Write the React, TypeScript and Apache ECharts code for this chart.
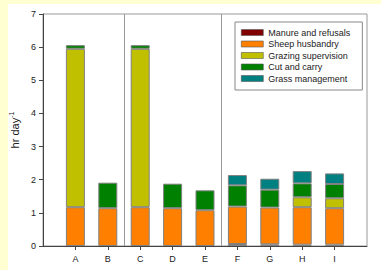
import React, { useEffect, useRef } from "react";
import * as echarts from "echarts";

const categories = ["A", "B", "C", "D", "E", "F", "G", "H", "I"];
const seriesNames = [
  "Manure and refusals",
  "Sheep husbandry",
  "Grazing supervision",
  "Cut and carry",
  "Grass management",
];
const manure = [0, 0, 0, 0, 0, 0.06, 0.05, 0.04, 0.04];
const sheep = [1.17, 1.14, 1.17, 1.14, 1.08, 1.13, 1.11, 1.13, 1.1];
const grazing = [4.78, 0, 4.78, 0, 0, 0, 0, 0.3, 0.3];
const cutCarry = [0.11, 0.77, 0.11, 0.74, 0.6, 0.64, 0.54, 0.42, 0.43];
const grass = [0, 0, 0, 0, 0, 0.31, 0.33, 0.37, 0.32];
const colors = ["#800000", "#FF8000", "#C0C000", "#008000", "#008080"];
const separators = [2.5, 5.5];

export default function App() {
  const ref = useRef<HTMLDivElement>(null);
  useEffect(() => {
    document.body.style.margin = "0";
    if (!ref.current) return;
    const chart = echarts.init(ref.current, null, { renderer: "svg" });
    const values = [manure, sheep, grazing, cutCarry, grass];
    // padded axis: an empty slot at each end so the categories sit at 1..9 of 0..10
    const axisCats = ["", ...categories, ""];
    const series: any[] = values.map((vals, s) => ({
      name: seriesNames[s],
      type: "bar",
      stack: "total",
      barWidth: 19,
      itemStyle: { color: colors[s], borderColor: "#808080", borderWidth: 1 },
      data: ["-", ...vals.map((v) => (v === 0 ? "-" : v)), "-"],
    }));
    chart.setOption({
      animation: false,
      textStyle: { fontFamily: "Liberation Sans" },
      grid: {
        left: 43,
        top: 14,
        right: 14,
        bottom: 24,
        show: true,
        borderColor: "#999",
        borderWidth: 1,
        backgroundColor: "transparent",
      },
      legend: {
        orient: "vertical",
        left: 235,
        top: 22,
        padding: [6, 12, 7, 6],
        icon: "rect",
        itemWidth: 22,
        itemHeight: 6,
        itemGap: 2.5,
        itemStyle: { borderColor: "#555", borderWidth: 0.6 },
        borderColor: "#888",
        borderWidth: 1,
        backgroundColor: "#fff",
        textStyle: { fontSize: 9, color: "#222", fontFamily: "Liberation Sans" },
        data: seriesNames,
      },
      xAxis: {
        type: "category",
        data: axisCats,
        boundaryGap: false,
        splitLine: { show: false },
        axisLine: { lineStyle: { color: "#444" } },
        axisTick: {
          length: 4,
          interval: (i: number) => i >= 1 && i <= categories.length,
          lineStyle: { color: "#444" },
        },
        axisLabel: { interval: 0, fontSize: 9, color: "#222", margin: 8 },
      },
      yAxis: {
        type: "value",
        min: 0,
        max: 7,
        interval: 1,
        splitLine: { show: false },
        axisLine: { show: true, lineStyle: { color: "#444" } },
        axisTick: { show: true, length: 4, lineStyle: { color: "#444" } },
        axisLabel: { fontSize: 9, color: "#222", margin: 7 },
        name: "{a|hr day}{b|-1}",
        nameLocation: "middle",
        nameGap: 21,
        nameTextStyle: {
          rich: {
            a: { fontSize: 11, color: "#222", fontFamily: "Liberation Sans" },
            b: {
              fontSize: 7,
              color: "#222",
              fontFamily: "Liberation Sans",
              verticalAlign: "top",
              padding: [0, 0, 6, 0],
            },
          },
        },
      },
      series,
    });
    // group separators, placed through the axis scale
    const [, yTop] = chart.convertToPixel({ gridIndex: 0 }, [0, 7]) as number[];
    const [, yBot] = chart.convertToPixel({ gridIndex: 0 }, [0, 0]) as number[];
    const graphics = separators.map((xv) => {
      const a = chart.convertToPixel({ xAxisIndex: 0 }, Math.floor(xv)) as number;
      const b = chart.convertToPixel({ xAxisIndex: 0 }, Math.ceil(xv)) as number;
      const x = Math.round((a + b) / 2) + 0.5;
      return {
        type: "line",
        silent: true,
        z: 0,
        shape: { x1: x, y1: yTop, x2: x, y2: yBot },
        style: { stroke: "#999", lineWidth: 1 },
      };
    });
    chart.setOption({ graphic: graphics });
    return () => chart.dispose();
  }, []);
  return (
    <div style={{ position: "relative", width: 381, height: 270, background: "#FFFFD2" }}>
      <div
        style={{ position: "absolute", left: 8, top: 4, width: 373, height: 266, background: "#fff" }}
      />
      <div ref={ref} style={{ position: "absolute", left: 0, top: 0, width: 381, height: 270 }} />
    </div>
  );
}
